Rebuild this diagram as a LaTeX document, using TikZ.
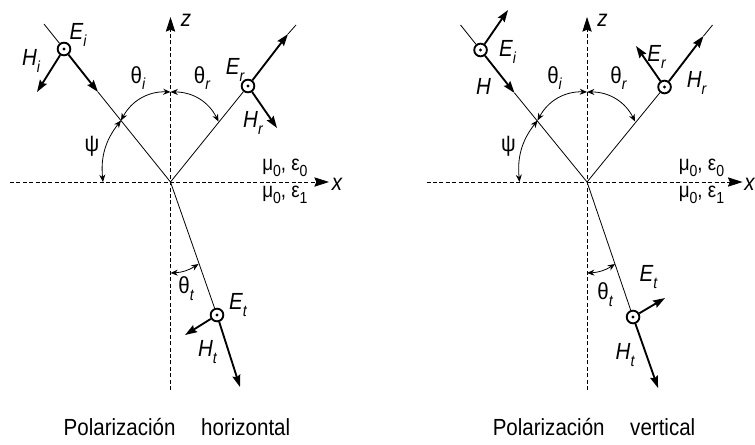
\documentclass[tikz,border=0pt]{standalone}
\usepackage{fontspec}
\setmainfont{Liberation Sans}[FakeStretch=0.88]
\usepackage{tikz}
\usetikzlibrary{arrows.meta}
\newcommand{\lowidx}[1]{\raisebox{-0.55ex}{\fontsize{12}{12}\selectfont #1}}

\begin{document}
\begin{tikzpicture}[x=0.75pt, y=-0.75pt,
  axis/.style={line width=0.6pt, dash pattern=on 3pt off 1.8pt, -{Stealth[length=11pt,width=7pt,inset=1.5pt]}},
  ray/.style={line width=0.6pt},
  field/.style={line width=1.4pt, -{Stealth[length=9pt,width=6pt,inset=1.2pt]}},
  angarc/.style={line width=0.6pt, {Stealth[length=5.5pt,width=4.5pt]}-{Stealth[length=5.5pt,width=4.5pt]}},
  fieldpt/.style={circle, draw, line width=1.4pt, minimum size=9.5pt, inner sep=0pt,
    path picture={\fill (path picture bounding box.center) circle (1.2pt);}},
  lbl/.style={font=\fontsize{17.5}{19}\selectfont, inner sep=0pt}]

\useasboundingbox (0,0) rectangle (755,444);

% ===== Polarizacion horizontal =====
% Axes
\coordinate (O) at (170.5,182);
\coordinate (zb) at (170.5,390);
\coordinate (zt) at (170.5,17);
\coordinate (xl) at (10,182);
\coordinate (xr) at (329,182);
\draw[axis] (zb) -- (zt);
\draw[axis] (xl) -- (xr);
\node[lbl] (zlab) at (186,20) {\itshape z};
\node[lbl] (xlab) at (337,184) {\itshape x};
\node[lbl, anchor=base west, font=\fontsize{16}{18}\selectfont] (med0) at (262,170) {μ\lowidx{0}, ε\lowidx{0}};
\node[lbl, anchor=base west, font=\fontsize{16}{18}\selectfont] (med1) at (262,197) {μ\lowidx{0}, ε\lowidx{1}};

% Incident wave
\node[fieldpt] (Ei) at (64,49) {};
\coordinate (Iin) at (44,24);
\coordinate (Iarr) at (98,92);
\coordinate (Hitip) at (37,92);
\draw[ray] (Iin) -- (Ei);
\draw[field] (Ei) -- (Iarr);
\draw[ray] (Iarr) -- (O);
\draw[field] (Ei) -- (Hitip);
\node[lbl] (Eilab) at (78,35) {\itshape E\lowidx{i}};
\node[lbl] (Hilab) at (31,61) {\itshape H\lowidx{i}};

% Reflected wave
\node[fieldpt] (Er) at (248,86) {};
\coordinate (Rarr) at (288,34);
\coordinate (Rout) at (296,25);
\coordinate (Hrtip) at (277,128);
\draw[ray] (O) -- (Er);
\draw[field] (Er) -- (Rarr);
\draw[ray] (Rarr) -- (Rout);
\draw[field] (Er) -- (Hrtip);
\node[lbl] (Erlab) at (235,70) {\itshape E\lowidx{r}};
\node[lbl] (Hrlab) at (253,123) {\itshape H\lowidx{r}};

% Transmitted wave
\node[fieldpt] (Et) at (217,315) {};
\coordinate (Ttip) at (240,387);
\coordinate (Httip) at (185,335);
\draw[ray] (O) -- (Et);
\draw[field] (Et) -- (Ttip);
\draw[field] (Et) -- (Httip);
\node[lbl] (Etlab) at (238,305) {\itshape E\lowidx{t}};
\node[lbl] (Htlab) at (207.5,352) {\itshape H\lowidx{t}};

% Angles
\coordinate (A) at (121,120.5);
\coordinate (T) at (170.5,92);
\coordinate (R) at (218.5,121.5);
\coordinate (P) at (103,182);
\coordinate (Ta) at (170.5,273);
\coordinate (Tb) at (198.5,264);
\draw[angarc] (A) to[bend left=32] (T);
\draw[angarc] (T) to[bend left=32] (R);
\draw[angarc] (A) to[bend right=22] (P);
\draw[angarc] (Ta) to[bend right=15] (Tb);
\node[lbl] (thi) at (138,78) {θ\lowidx{\itshape i}};
\node[lbl] (thr) at (202,78) {θ\lowidx{\itshape r}};
\node[lbl] (psi) at (92,146) {ψ};
\node[lbl] (tht) at (186,289) {θ\lowidx{\itshape t}};

\node[lbl] (caph) at (177,427) {Polarización\hspace{1.1em}horizontal};

% ===== Polarizacion vertical =====
\begin{scope}[xshift=312.4pt]
% Axes
\coordinate (vO) at (170.5,182);
\coordinate (vzb) at (170.5,390);
\coordinate (vzt) at (170.5,17);
\coordinate (vxl) at (10,182);
\coordinate (vxr) at (326,182);
\draw[axis] (vzb) -- (vzt);
\draw[axis] (vxl) -- (vxr);
\node[lbl] (vzlab) at (186,20) {\itshape z};
\node[lbl] (vxlab) at (333,184) {\itshape x};
\node[lbl, anchor=base west, font=\fontsize{16}{18}\selectfont] (vmed0) at (262,170) {μ\lowidx{0}, ε\lowidx{0}};
\node[lbl, anchor=base west, font=\fontsize{16}{18}\selectfont] (vmed1) at (262,197) {μ\lowidx{0}, ε\lowidx{1}};

% Incident wave
\node[fieldpt] (vHi) at (64,50) {};
\coordinate (vIin) at (44,25);
\coordinate (vIarr) at (98,93);
\coordinate (vEitip) at (91.5,10);
\draw[ray] (vIin) -- (vHi);
\draw[field] (vHi) -- (vIarr);
\draw[ray] (vIarr) -- (vO);
\draw[field] (vHi) -- (vEitip);
\node[lbl] (vEilab) at (91,52) {\itshape E\lowidx{i}};
\node[lbl] (vHilab) at (67,86) {\itshape H};

% Reflected wave
\node[fieldpt] (vHr) at (248,87) {};
\coordinate (vRarr) at (287,36);
\coordinate (vRout) at (296,25);
\coordinate (vErtip) at (219.5,46);
\draw[ray] (vO) -- (vHr);
\draw[field] (vHr) -- (vRarr);
\draw[ray] (vRarr) -- (vRout);
\draw[field] (vHr) -- (vErtip);
\node[lbl] (vErlab) at (240,57) {\itshape E\lowidx{r}};
\node[lbl] (vHrlab) at (280,83) {\itshape H\lowidx{r}};

% Transmitted wave
\node[fieldpt] (vHt) at (216.5,317) {};
\coordinate (vTtip) at (241.5,388);
\coordinate (vEttip) at (248.5,298);
\draw[ray] (vO) -- (vHt);
\draw[field] (vHt) -- (vTtip);
\draw[field] (vHt) -- (vEttip);
\node[lbl] (vEtlab) at (232,277) {\itshape E\lowidx{t}};
\node[lbl] (vHtlab) at (208.5,355) {\itshape H\lowidx{t}};

% Angles
\coordinate (vA) at (121,120.5);
\coordinate (vT) at (170.5,92);
\coordinate (vR) at (218.5,121.5);
\coordinate (vP) at (103,182);
\coordinate (vTa) at (170.5,273);
\coordinate (vTb) at (198.5,264);
\draw[angarc] (vA) to[bend left=32] (vT);
\draw[angarc] (vT) to[bend left=32] (vR);
\draw[angarc] (vA) to[bend right=22] (vP);
\draw[angarc] (vTa) to[bend right=15] (vTb);
\node[lbl] (vthi) at (138,78) {θ\lowidx{\itshape i}};
\node[lbl] (vthr) at (202,78) {θ\lowidx{\itshape r}};
\node[lbl] (vpsi) at (92,146) {ψ};
\node[lbl] (vtht) at (188.5,295) {θ\lowidx{\itshape t}};

\node[lbl] (capv) at (177.5,427) {Polarización\hspace{1.1em}vertical};
\end{scope}

\end{tikzpicture}
\end{document}
